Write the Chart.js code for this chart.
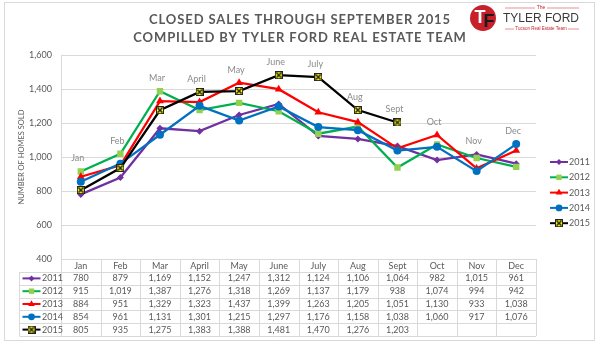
<!DOCTYPE html>
<html>
<head>
<meta charset="utf-8">
<script src="https://cdn.jsdelivr.net/npm/chart.js@4.4.0/dist/chart.umd.min.js"></script>
<style>
  body { margin: 0; background: #fff; }
  canvas { display: block; }
</style>
</head>
<body>
<canvas id="sales-chart" width="600" height="346"></canvas>
<script>
// data
var months = ['Jan', 'Feb', 'Mar', 'April', 'May', 'June', 'July', 'Aug', 'Sept', 'Oct', 'Nov', 'Dec'];
var years = ['2011', '2012', '2013', '2014', '2015'];
var sales2011 = [780, 879, 1169, 1152, 1247, 1312, 1124, 1106, 1064, 982, 1015, 961];
var sales2012 = [915, 1019, 1387, 1276, 1318, 1269, 1137, 1179, 938, 1074, 994, 942];
var sales2013 = [884, 951, 1329, 1323, 1437, 1399, 1263, 1205, 1051, 1130, 933, 1038];
var sales2014 = [854, 961, 1131, 1301, 1215, 1297, 1176, 1158, 1038, 1060, 917, 1076];
var sales2015 = [805, 935, 1275, 1383, 1388, 1481, 1470, 1276, 1203];
var yTicks = [400, 600, 800, 1000, 1200, 1400, 1600];

var titleLines = ['CLOSED SALES THROUGH SEPTEMBER 2015', 'COMPILLED BY TYLER FORD REAL ESTATE TEAM'];
var yTitle = 'NUMBER OF HOMES SOLD';

var FONT = 'Lato, "Open Sans", sans-serif';
var GRID = '#d9d9d9';
var TEXT = '#595959';

// 2015 marker: yellow square with a black x
function makeXMarker() {
    var c = document.createElement('canvas');
    c.width = 8; c.height = 8;
    var g = c.getContext('2d');
    g.fillStyle = '#FFFF00';
    g.fillRect(0, 0, 8, 8);
    g.strokeStyle = '#222';
    g.lineWidth = 1;
    g.strokeRect(0.5, 0.5, 7, 7);
    g.lineWidth = 1.5;
    g.beginPath();
    g.moveTo(1.5, 1.5); g.lineTo(6.5, 6.5);
    g.moveTo(6.5, 1.5); g.lineTo(1.5, 6.5);
    g.stroke();
    return c;
}

var seriesStyles = [
    { line: '#7030A0', fill: '#7030A0', point: 'rectRot', radius: 3.5 },
    { line: '#00B050', fill: '#92D050', point: 'rect', radius: 4.5 },
    { line: '#FF0000', fill: '#FF0000', point: 'triangle', radius: 4.5 },
    { line: '#0070C0', fill: '#0070C0', point: 'circle', radius: 4 },
    { line: '#000000', fill: '#FFFF00', point: makeXMarker(), radius: 4 }
];
var seriesData = [sales2011, sales2012, sales2013, sales2014, sales2015];

var datasets = years.map(function (year, i) {
    var s = seriesStyles[i];
    return {
        label: year,
        data: seriesData[i],
        borderColor: s.line,
        backgroundColor: s.fill,
        pointBackgroundColor: s.fill,
        pointBorderColor: s.fill,
        pointBorderWidth: 0,
        pointStyle: s.point,
        pointRadius: s.radius,
        borderWidth: 2.25,
        tension: 0,
        order: years.length - i   // 2015 on top, like Excel
    };
});

function fmt(v) {
    return v.toLocaleString('en-US');
}

function drawMarker(ctx, i, x, y) {
    var s = seriesStyles[i];
    ctx.save();
    ctx.strokeStyle = s.line;
    ctx.lineWidth = 2;
    ctx.beginPath();
    ctx.moveTo(x - 9, y);
    ctx.lineTo(x + 9, y);
    ctx.stroke();
    ctx.fillStyle = s.fill;
    ctx.strokeStyle = s.fill;
    ctx.lineWidth = 0;
    Chart.helpers.drawPoint(ctx, { pointStyle: s.point, radius: s.radius * 0.85, rotation: 0, borderWidth: 0 }, x, y);
    ctx.restore();
}

// frame, title, logo
var decorPlugin = {
    id: 'decor',
    beforeDraw: function (chart) {
        var ctx = chart.ctx;
        ctx.save();
        ctx.fillStyle = '#fff';
        ctx.fillRect(0, 0, chart.width, chart.height);
        ctx.strokeStyle = GRID;
        ctx.lineWidth = 1;
        ctx.strokeRect(4.5, 2.5, 590, 338);

        // title
        ctx.fillStyle = TEXT;
        ctx.font = 'bold 13px ' + FONT;
        ctx.letterSpacing = '0.9px';
        ctx.textAlign = 'center';
        ctx.textBaseline = 'middle';
        ctx.fillText(titleLines[0], 300, 20);
        ctx.fillText(titleLines[1], 300, 38);
        ctx.letterSpacing = '0px';

        // logo
        ctx.fillStyle = '#C8202A';
        ctx.beginPath();
        ctx.arc(483, 18, 13, 0, 2 * Math.PI);
        ctx.fill();
        ctx.font = 'bold 18px "Liberation Sans"';
        ctx.fillStyle = '#fff';
        ctx.fillText('T', 480, 18);
        ctx.fillStyle = '#1a1a1a';
        ctx.fillText('F', 489, 22);

        ctx.fillStyle = '#3a3a3a';
        ctx.font = '12px "Liberation Sans"';
        ctx.textAlign = 'left';
        ctx.fillText('TYLER FORD', 503, 19);
        ctx.fillStyle = '#C8202A';
        ctx.textAlign = 'center';
        ctx.font = '5px "Liberation Sans"';
        ctx.fillText('The', 541, 8);
        ctx.font = '4.5px "Liberation Sans"';
        ctx.fillText('Tucson Real Estate Team', 541, 29);
        ctx.strokeStyle = '#C8202A';
        ctx.lineWidth = 0.5;
        ctx.beginPath();
        ctx.moveTo(505, 8); ctx.lineTo(535, 8);
        ctx.moveTo(547, 8); ctx.lineTo(579, 8);
        ctx.moveTo(505, 29); ctx.lineTo(514, 29);
        ctx.moveTo(568, 29); ctx.lineTo(579, 29);
        ctx.stroke();

        // y axis title
        var area = chart.chartArea;
        ctx.fillStyle = TEXT;
        ctx.font = '7.5px ' + FONT;
        ctx.translate(22, (area.top + area.bottom) / 2);
        ctx.rotate(-Math.PI / 2);
        ctx.fillText(yTitle, 0, 0);
        ctx.restore();
    }
};

// month names above each column
var monthLabelPlugin = {
    id: 'monthLabels',
    afterDatasetsDraw: function (chart) {
        var ctx = chart.ctx, xs = chart.scales.x, ys = chart.scales.y;
        ctx.save();
        ctx.fillStyle = '#8a8a8a';
        ctx.font = '9px ' + FONT;
        ctx.textAlign = 'center';
        ctx.textBaseline = 'middle';
        months.forEach(function (m, i) {
            var top = -Infinity;
            seriesData.forEach(function (d) {
                if (d[i] != null && d[i] > top) top = d[i];
            });
            ctx.fillText(m, xs.getPixelForValue(i) - 3, ys.getPixelForValue(top) - 13);
        });
        ctx.restore();
    }
};

// data table under the axis and legend on the right
var tablePlugin = {
    id: 'dataTable',
    afterDraw: function (chart) {
        var ctx = chart.ctx, xs = chart.scales.x, area = chart.chartArea;
        var half = (xs.getPixelForValue(1) - xs.getPixelForValue(0)) / 2;
        var top = area.bottom, headerH = 13, rowH = 12.8;
        var tableLeft = 19.5;
        var bottom = top + headerH + rowH * years.length;

        ctx.save();
        ctx.strokeStyle = GRID;
        ctx.lineWidth = 1;
        ctx.beginPath();
        for (var k = 0; k <= years.length; k++) {
            var yy = Math.round(top + headerH + rowH * k) + 0.5;
            ctx.moveTo(tableLeft, yy);
            ctx.lineTo(area.right, yy);
        }
        ctx.moveTo(tableLeft, top + headerH);
        ctx.lineTo(tableLeft, bottom);
        ctx.moveTo(Math.round(area.left) + 0.5, top);
        ctx.lineTo(Math.round(area.left) + 0.5, bottom);
        for (var i = 0; i < months.length; i++) {
            var xx = Math.round(xs.getPixelForValue(i) + half) + 0.5;
            ctx.moveTo(xx, top);
            ctx.lineTo(xx, bottom);
        }
        ctx.stroke();

        ctx.font = '9px ' + FONT;
        ctx.textBaseline = 'middle';
        years.forEach(function (year, r) {
            var cy = top + headerH + rowH * (r + 0.5);
            drawMarker(ctx, r, 31.5, cy);
            ctx.fillStyle = TEXT;
            ctx.textAlign = 'left';
            ctx.fillText(year, 42, cy);
            ctx.textAlign = 'center';
            seriesData[r].forEach(function (v, i) {
                ctx.fillText(fmt(v), xs.getPixelForValue(i), cy);
            });

            // side legend
            var ly = 162 + 15.3 * r;
            drawMarker(ctx, r, 559, ly);
            ctx.fillStyle = TEXT;
            ctx.textAlign = 'left';
            ctx.fillText(year, 569, ly);
        });
        ctx.restore();
    }
};

var ctx = document.getElementById('sales-chart').getContext('2d');
var chart = new Chart(ctx, {
    type: 'line',
    data: {
        labels: months,
        datasets: datasets
    },
    options: {
        responsive: false,
        animation: false,
        layout: {
            padding: { left: 0, right: 64, top: 55, bottom: 10 }
        },
        plugins: {
            legend: { display: false },
            title: { display: false },
            tooltip: { enabled: false }
        },
        scales: {
            x: {
                offset: true,
                grid: { display: false, drawTicks: false },
                border: { display: true, color: GRID },
                ticks: { color: TEXT, font: { family: FONT, size: 9 }, padding: 2, maxRotation: 0, autoSkip: false },
                afterFit: function (scale) { scale.height = 77; }
            },
            y: {
                min: yTicks[0],
                max: yTicks[yTicks.length - 1],
                afterBuildTicks: function (scale) {
                    scale.ticks = yTicks.map(function (v) { return { value: v }; });
                },
                grid: { color: GRID, drawTicks: false },
                border: { display: true, color: GRID },
                ticks: {
                    color: TEXT,
                    font: { family: FONT, size: 9 },
                    padding: 9,
                    callback: function (v) { return fmt(v); }
                },
                afterFit: function (scale) { scale.width = 61; }
            }
        }
    },
    plugins: [decorPlugin, monthLabelPlugin, tablePlugin]
});
</script>
</body>
</html>
